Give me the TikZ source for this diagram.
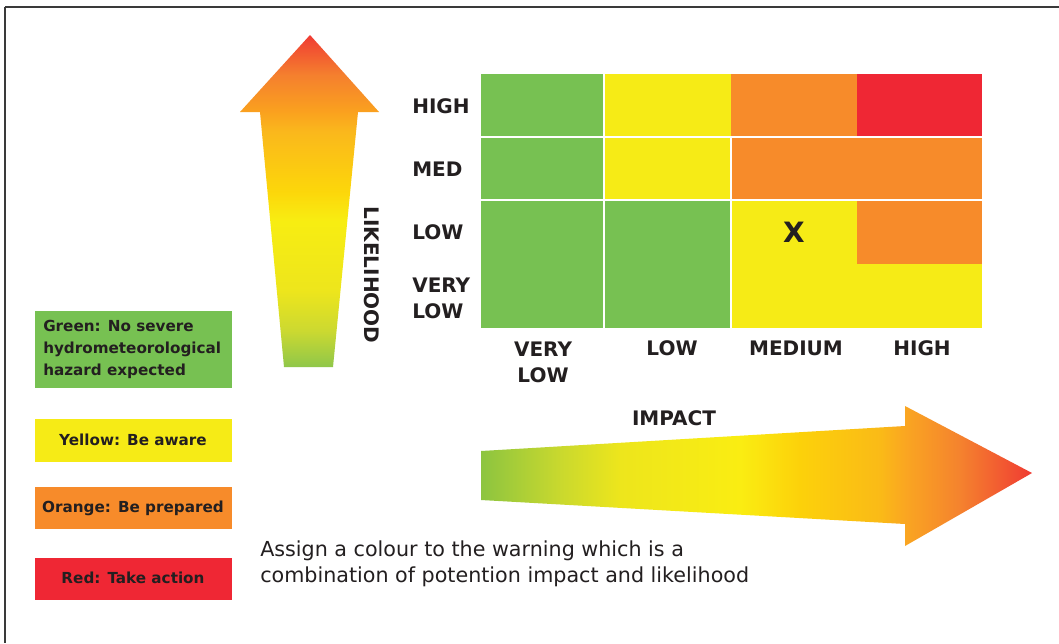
\documentclass[tikz,border=0pt]{standalone}
\usepackage{fontspec}
\setmainfont{DejaVu Sans}

\definecolor{wgreen}{HTML}{77C152}
\definecolor{wyellow}{HTML}{F6EB16}
\definecolor{worange}{HTML}{F78B2A}
\definecolor{wred}{HTML}{EF2734}
\definecolor{textdark}{HTML}{231F20}
\definecolor{framegray}{HTML}{3A3A3A}

\pgfdeclareverticalshading{likelyshade}{100bp}{%
	rgb(0bp)=(0.56,0.78,0.29); rgb(25bp)=(0.56,0.78,0.29);
	rgb(30.5bp)=(0.80,0.85,0.19); rgb(36.5bp)=(0.93,0.90,0.11);
	rgb(47bp)=(0.97,0.93,0.07); rgb(51.5bp)=(0.99,0.84,0.04);
	rgb(60.5bp)=(0.98,0.72,0.11); rgb(63.5bp)=(0.98,0.63,0.12);
	rgb(69bp)=(0.96,0.50,0.18); rgb(75bp)=(0.94,0.23,0.20);
	rgb(100bp)=(0.94,0.23,0.20)}
\pgfdeclarehorizontalshading{impactshade}{100bp}{%
	rgb(0bp)=(0.55,0.77,0.25); rgb(25bp)=(0.55,0.77,0.25);
	rgb(32.2bp)=(0.79,0.85,0.18); rgb(37.6bp)=(0.93,0.90,0.11);
	rgb(48.5bp)=(0.98,0.93,0.07); rgb(53.9bp)=(0.99,0.82,0.04);
	rgb(61.2bp)=(0.98,0.73,0.09); rgb(63.5bp)=(0.98,0.65,0.13);
	rgb(68.5bp)=(0.96,0.51,0.18); rgb(75bp)=(0.94,0.23,0.20);
	rgb(100bp)=(0.94,0.23,0.20)}

\begin{document}
\begin{tikzpicture}[x=0.75pt,y=-0.75pt,
	lab/.style={inner sep=0pt,text=textdark,font=\fontsize{15}{19.5}\selectfont\bfseries},
	key/.style={inner sep=0pt,text=textdark,font=\fontsize{11.4}{16.5}\selectfont\bfseries}]
	\useasboundingbox (0,0) rectangle (1059,643);
	\fill[white] (0,0) rectangle (1059,643);
	\draw[framegray, line width=1.4pt] (5,7) -- (1059,7);
	\draw[framegray, line width=0.8pt] (5,7) -- (5,643);

	\shade[shading=likelyshade] (284,367) -- (260,112) -- (240,112) -- (310,35) -- (379,112) -- (358,112) -- (333,367) -- cycle;
	\node[lab, rotate=-90] (likelihood) at (372,275) {LIKELIHOOD};

	\fill[wgreen] (481,74) rectangle (604,137);
	\fill[wgreen] (481,137) rectangle (604,200);
	\fill[wgreen] (481,200) rectangle (731,328);
	\fill[wyellow] (604,74) rectangle (731,200);
	\fill[wyellow] (731,200) rectangle (982,328);
	\fill[worange] (731,74) rectangle (857,137);
	\fill[worange] (731,137) rectangle (982,200);
	\fill[worange] (857,200) rectangle (982,264);
	\fill[wred] (857,74) rectangle (982,137);
	\draw[white, line width=1.2pt] (481,137) -- (982,137);
	\draw[white, line width=1.2pt] (481,200) -- (982,200);
	\draw[white, line width=1.2pt] (604,74) -- (604,328);
	\draw[white, line width=1.2pt] (731,137) -- (731,328);

	\node[lab, anchor=west] (lhigh) at (412,106) {HIGH};
	\node[lab, anchor=west] (lmed) at (412,169) {MED};
	\node[lab, anchor=west] (llow) at (412,232) {LOW};
	\node[lab, anchor=west, align=left] (lvlow) at (412,298) {VERY\\LOW};
	\node[lab, align=center] (ivlow) at (543,362) {VERY\\LOW};
	\node[lab] (ilow) at (672,348) {LOW};
	\node[lab] (imed) at (796,348) {MEDIUM};
	\node[lab] (ihigh) at (922,348) {HIGH};
	\node[lab, font=\fontsize{21}{21}\selectfont\bfseries] (cross) at (794,232) {X};

	\shade[shading=impactshade] (481,451) -- (905,426) -- (905,406) -- (1032,473) -- (905,546) -- (905,524) -- (481,500) -- cycle;
	\node[lab] (impact) at (674,418) {IMPACT};

	\fill[wgreen] (35,311) rectangle (232,388);
	\node[key, anchor=west, align=left] (kgreen) at (43,349) {Green: No severe\\hydrometeorological\\hazard expected};
	\fill[wyellow] (35,419) rectangle (232,462);
	\node[key] (kyellow) at (133,440) {Yellow: Be aware};
	\fill[worange] (35,487) rectangle (232,529);
	\node[key] (korange) at (133,508) {Orange: Be prepared};
	\fill[wred] (35,558) rectangle (232,600);
	\node[key] (kred) at (133,578) {Red: Take action};

	\node[inner sep=0pt, anchor=west, align=left, text=textdark, font=\fontsize{15.5}{19.5}\selectfont] (note) at (260,564) {Assign a colour to the warning which is a\\combination of potention impact and likelihood};
\end{tikzpicture}
\end{document}
